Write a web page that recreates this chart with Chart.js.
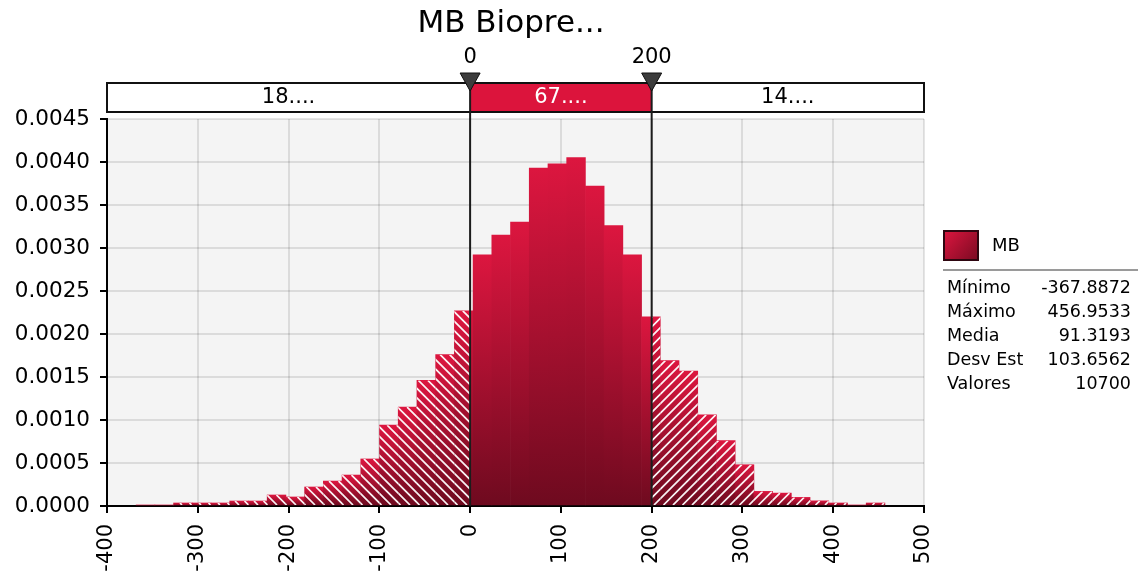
<!DOCTYPE html>
<html>
<head>
<meta charset="utf-8">
<script src="https://cdn.jsdelivr.net/npm/chart.js@4.4.1/dist/chart.umd.min.js"></script>
<style>
  body { margin: 0; background: #fff; }
  #wrap { width: 1141px; height: 571px; }
</style>
</head>
<body>
<div id="wrap"><canvas id="myChart" width="1141" height="571"></canvas></div>
<script>
  const chartTitle = 'MB Biopre...';
  const seriesName = 'MB';
  const minValue = -367.8872;
  const maxValue = 456.9533;
  // probability density of each of the 40 bins, low to high
  const density = [
    0.000012, 0.000012, 0.000035, 0.000035, 0.000035, 0.000058, 0.000058, 0.000128,
    0.000105, 0.000221, 0.00029, 0.00036, 0.000547, 0.00094, 0.00115, 0.00146,
    0.00176, 0.00227, 0.00292, 0.00315, 0.0033, 0.00393, 0.00398, 0.00405,
    0.00372, 0.00326, 0.00292, 0.0022, 0.00169, 0.00157, 0.00106, 0.00076,
    0.00048, 0.00017, 0.00015, 0.0001, 0.00006, 0.000035, 0.000012, 0.000035
  ];
  const delimiters = [0, 200];
  const delimiterLabels = ['18....', '67....', '14....'];
  const statNames = ['Mínimo', 'Máximo', 'Media', 'Desv Est', 'Valores'];
  const statValues = ['-367.8872', '456.9533', '91.3193', '103.6562', '10700'];

  const binWidth = (maxValue - minValue) / density.length;
  const points = density.map((v, i) => ({ x: minValue + binWidth * (i + 0.5), y: v }));

  const FONT = 'DejaVu Sans';
  Chart.defaults.font.family = FONT;
  Chart.defaults.color = '#000';

  function barFill(context) {
    const chart = context.chart;
    if (!chart.chartArea || !context.parsed) return '#b01030';
    const ys = chart.scales.y;
    const top = ys.getPixelForValue(context.parsed.y);
    const bot = ys.getPixelForValue(0);
    if (!isFinite(top) || bot - top < 1) return '#b01030';
    const g = chart.ctx.createLinearGradient(0, top, 0, bot);
    g.addColorStop(0, '#dc163f');
    g.addColorStop(1, '#6e0a1f');
    return g;
  }

  const background = {
    id: 'background',
    beforeDraw(chart) {
      const c = chart.ctx, a = chart.chartArea;
      c.save();
      c.fillStyle = '#fff';
      c.fillRect(0, 0, chart.width, chart.height);
      c.fillStyle = '#f4f4f4';
      c.fillRect(a.left, a.top, a.right - a.left, a.bottom - a.top);
      c.restore();
    }
  };

  const hatch = {
    id: 'hatch',
    afterDatasetsDraw(chart) {
      const c = chart.ctx;
      const xs = chart.scales.x;
      const lo = xs.getPixelForValue(delimiters[0]);
      const hi = xs.getPixelForValue(delimiters[1]);
      const step = 9.5;
      chart.getDatasetMeta(0).data.forEach(bar => {
        const p = bar.getProps(['x', 'y', 'base', 'width'], true);
        const l = p.x - p.width / 2, r = p.x + p.width / 2;
        const top = Math.min(p.y, p.base), bot = Math.max(p.y, p.base);
        [[l, Math.min(r, lo), -1], [Math.max(l, hi), r, 1]].forEach(([a, b, dir]) => {
          if (b - a < 0.5 || bot - top < 0.5) return;
          c.save();
          c.beginPath();
          c.rect(a, top, b - a, bot - top);
          c.clip();
          c.strokeStyle = 'rgba(255,255,255,0.95)';
          c.lineWidth = 1.7;
          c.beginPath();
          if (dir < 0) {
            const k0 = Math.floor((a - bot) / step) * step;
            for (let k = k0; k <= b - top; k += step) { c.moveTo(k + top, top); c.lineTo(k + bot, bot); }
          } else {
            const k0 = Math.floor((a + top) / step) * step;
            for (let k = k0; k <= b + bot + step; k += step) { c.moveTo(k - top, top); c.lineTo(k - bot, bot); }
          }
          c.stroke();
          c.restore();
        });
      });
    }
  };

  const overlay = {
    id: 'overlay',
    afterDraw(chart) {
      const c = chart.ctx, a = chart.chartArea;
      const xs = chart.scales.x;
      const lo = xs.getPixelForValue(delimiters[0]);
      const hi = xs.getPixelForValue(delimiters[1]);
      c.save();

      // title
      c.fillStyle = '#000';
      c.font = '31px "' + FONT + '"';
      c.textAlign = 'center';
      c.textBaseline = 'middle';
      c.fillText(chartTitle, 511, 24);

      // delimiter bar
      const bt = 83, bb = 112;
      c.fillStyle = '#fff';
      c.fillRect(a.left, bt, a.right - a.left, bb - bt);
      c.fillStyle = '#dc143c';
      c.fillRect(lo, bt, hi - lo, bb - bt);
      c.strokeStyle = '#111';
      c.lineWidth = 2;
      c.strokeRect(a.left, bt, a.right - a.left, bb - bt);

      c.font = '21px "' + FONT + '"';
      c.fillStyle = '#000';
      c.fillText(delimiterLabels[0], (a.left + lo) / 2, 98);
      c.fillStyle = '#fff';
      c.fillText(delimiterLabels[1], (lo + hi) / 2, 98);
      c.fillStyle = '#000';
      c.fillText(delimiterLabels[2], (hi + a.right) / 2, 98);

      // delimiter lines, markers and values
      [lo, hi].forEach((px, i) => {
        c.strokeStyle = '#1c1c1c';
        c.lineWidth = 2;
        c.beginPath();
        c.moveTo(px, bt);
        c.lineTo(px, a.bottom);
        c.stroke();

        c.fillStyle = '#3c3c3c';
        c.strokeStyle = '#111';
        c.lineWidth = 1;
        c.beginPath();
        c.moveTo(px - 10, 73);
        c.lineTo(px + 10, 73);
        c.lineTo(px, 91);
        c.closePath();
        c.fill();
        c.stroke();

        c.fillStyle = '#000';
        c.font = '21px "' + FONT + '"';
        c.fillText(String(delimiters[i]), px, 58);
      });

      // legend swatch
      const g = c.createLinearGradient(944, 231, 978, 260);
      g.addColorStop(0, '#dc163f');
      g.addColorStop(1, '#7a0a22');
      c.fillStyle = g;
      c.fillRect(944, 231, 34, 29);
      c.strokeStyle = '#2e0610';
      c.lineWidth = 2;
      c.strokeRect(944, 231, 34, 29);

      c.fillStyle = '#000';
      c.textAlign = 'left';
      c.font = '18px "' + FONT + '"';
      c.fillText(seriesName, 992, 246);

      c.strokeStyle = '#9a9a9a';
      c.lineWidth = 2;
      c.beginPath();
      c.moveTo(943, 270);
      c.lineTo(1138, 270);
      c.stroke();

      c.font = '17.5px "' + FONT + '"';
      statNames.forEach((name, i) => {
        const y = 288 + i * 24;
        c.textAlign = 'left';
        c.fillText(name, 947, y);
        c.textAlign = 'right';
        c.fillText(statValues[i], 1131, y);
      });

      c.restore();
    }
  };

  const ctx = document.getElementById('myChart');

  new Chart(ctx, {
    type: 'bar',
    data: {
      datasets: [{
        label: seriesName,
        data: points,
        backgroundColor: barFill,
        borderWidth: 0,
        barPercentage: 1,
        categoryPercentage: 1
      }]
    },
    options: {
      responsive: false,
      animation: false,
      layout: { padding: { top: 119, right: 217, left: 0, bottom: 0 } },
      plugins: {
        legend: { display: false },
        tooltip: { enabled: false }
      },
      scales: {
        x: {
          type: 'linear',
          min: -400,
          max: 500,
          offset: false,
          z: 1,
          grid: { offset: false, color: 'rgba(0,0,0,0.1)', lineWidth: 2, tickColor: '#000', tickLength: 7, tickWidth: 2 },
          border: { color: '#000', width: 2 },
          ticks: { stepSize: 100, minRotation: 90, maxRotation: 90, padding: 11, font: { size: 21 }, color: '#000' },
          afterFit: s => { s.height = 65; }
        },
        y: {
          min: 0,
          max: 0.0045,
          z: 1,
          grid: { color: 'rgba(0,0,0,0.1)', lineWidth: 2, tickColor: '#000', tickLength: 7, tickWidth: 2 },
          border: { color: '#000', width: 2 },
          ticks: { stepSize: 0.0005, padding: 10, font: { size: 21.5 }, color: '#000', callback: v => Number(v).toFixed(4) },
          afterFit: s => { s.width = 107; }
        }
      }
    },
    plugins: [background, hatch, overlay]
  });
</script>
</body>
</html>
